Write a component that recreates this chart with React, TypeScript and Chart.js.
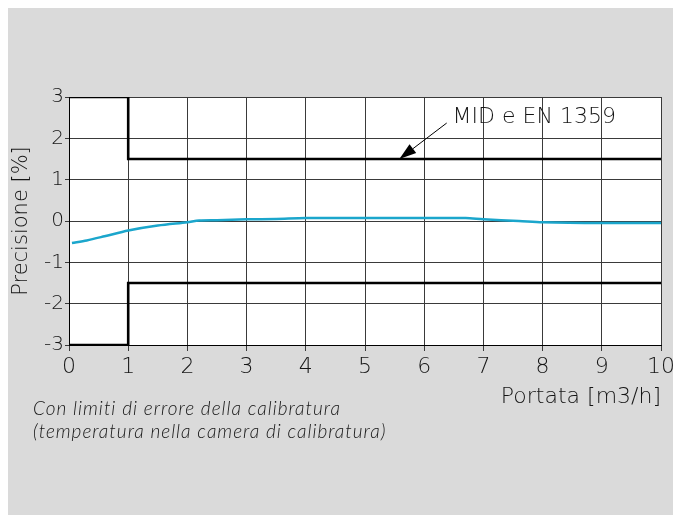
import React, { useEffect, useRef } from "react";
import { Chart, registerables } from "chart.js";

Chart.register(...registerables);

// ---- data ----
const flowX = [0.05, 0.3, 0.6, 1.0, 1.5, 2.0, 2.2, 2.5, 3.0, 3.5, 4.0, 5.0, 6.0, 6.7, 7.0, 7.6, 8.0, 9.0, 10.0];
const precisionY = [-0.53, -0.47, -0.37, -0.23, -0.11, -0.03, 0.01, 0.02, 0.04, 0.05, 0.07, 0.07, 0.07, 0.07, 0.04, 0.0, -0.03, -0.05, -0.05];

const upperLimitX = [0, 1, 1, 10];
const upperLimitY = [3, 3, 1.5, 1.5];
const lowerLimitX = [0, 1, 1, 10];
const lowerLimitY = [-3, -3, -1.5, -1.5];

const xTicks = [0, 1, 2, 3, 4, 5, 6, 7, 8, 9, 10];
const yTicks = [-3, -2, -1, 0, 1, 2, 3];

const annotationText = "MID e EN 1359";
const arrowTip = { x: 5.58, y: 1.5 };
const arrowTail = { x: 6.38, y: 2.37 };
const annotationPos = { x: 6.48, y: 2.52 };

const xTitle = "Portata [m3/h]";
const yTitle = "Precisione [%]";
const captionLines = [
  "Con limiti di errore della calibratura",
  "(temperatura nella camera di calibratura)",
];

const FONT = "'DejaVu Sans', sans-serif";
const W = "200";
const CAP_FONT = "Lato, 'DejaVu Sans', sans-serif";
const TEXT = "#151515";

const toPts = (xs: number[], ys: number[]) => xs.map((x, i) => ({ x, y: ys[i] }));

const textPlugin = {
  id: "textPlugin",
  afterDraw(chart: any) {
    const { ctx, scales, chartArea } = chart;
    const xs = scales.x;
    const ys = scales.y;
    ctx.save();
    // arrow
    const tx = xs.getPixelForValue(arrowTip.x);
    const ty = ys.getPixelForValue(arrowTip.y);
    const sx = xs.getPixelForValue(arrowTail.x);
    const sy = ys.getPixelForValue(arrowTail.y);
    const ang = Math.atan2(ty - sy, tx - sx);
    const headLen = 17;
    const headW = 5.5;
    const bx = tx - headLen * Math.cos(ang);
    const by = ty - headLen * Math.sin(ang);
    ctx.strokeStyle = "#000";
    ctx.lineWidth = 1;
    ctx.beginPath();
    ctx.moveTo(sx, sy);
    ctx.lineTo(bx, by);
    ctx.stroke();
    ctx.fillStyle = "#000";
    ctx.beginPath();
    ctx.moveTo(tx, ty);
    ctx.lineTo(bx + headW * Math.sin(ang), by - headW * Math.cos(ang));
    ctx.lineTo(bx - headW * Math.sin(ang), by + headW * Math.cos(ang));
    ctx.closePath();
    ctx.fill();

    // annotation text
    ctx.fillStyle = TEXT;
    ctx.font = `${W} 22px ${FONT}`;
    ctx.textAlign = "left";
    ctx.textBaseline = "middle";
    ctx.fillText(annotationText, xs.getPixelForValue(annotationPos.x), ys.getPixelForValue(annotationPos.y));

    // x title
    ctx.textAlign = "right";
    ctx.fillText(xTitle, chartArea.right, chartArea.bottom + 52);

    // caption
    ctx.font = `italic 300 19px ${CAP_FONT}`;
    (ctx as any).letterSpacing = "1px";
    ctx.textAlign = "left";
    captionLines.forEach((line, i) => {
      ctx.fillText(line, 25, chartArea.bottom + 64 + i * 23);
    });
    ctx.restore();
  },
};

export default function App() {
  const ref = useRef<HTMLCanvasElement | null>(null);
  useEffect(() => {
    if (!ref.current) return;
    const chart = new Chart(ref.current, {
      type: "scatter",
      data: {
        datasets: [
          {
            data: toPts(upperLimitX, upperLimitY),
            showLine: true,
            borderColor: "#000",
            borderWidth: 2.6,
            pointRadius: 0,
            tension: 0,
          },
          {
            data: toPts(lowerLimitX, lowerLimitY),
            showLine: true,
            borderColor: "#000",
            borderWidth: 2.6,
            pointRadius: 0,
            tension: 0,
          },
          {
            data: toPts(flowX, precisionY),
            showLine: true,
            borderColor: "#1ba6cc",
            borderWidth: 2.5,
            pointRadius: 0,
            tension: 0.3,
          },
        ],
      },
      options: {
        animation: false,
        responsive: false,
        maintainAspectRatio: false,
        devicePixelRatio: 1,
        layout: { padding: { top: 89, right: 12, bottom: 0, left: 0 } },
        plugins: {
          legend: { display: false },
          tooltip: { enabled: false },
        },
        scales: {
          x: {
            type: "linear",
            min: 0,
            max: 10,
            afterBuildTicks: (s: any) => {
              s.ticks = xTicks.map((v) => ({ value: v }));
            },
            afterFit: (s: any) => {
              s.height = 170;
            },
            grid: { color: "#3a3a3a", lineWidth: 1, tickLength: 6, drawTicks: true },
            border: { color: "#000", width: 1 },
            ticks: {
              color: TEXT,
              font: { family: FONT, size: 22, weight: W as any },
              padding: 3,
              maxRotation: 0,
            },
          },
          y: {
            type: "linear",
            min: -3,
            max: 3,
            afterBuildTicks: (s: any) => {
              s.ticks = yTicks.map((v) => ({ value: v }));
            },
            afterFit: (s: any) => {
              s.width = 61;
            },
            grid: { color: "#3a3a3a", lineWidth: 1, tickLength: 4 },
            border: { color: "#000", width: 1 },
            ticks: {
              color: TEXT,
              font: { family: FONT, size: 20, weight: W as any },
              padding: 1,
            },
            title: {
              display: true,
              text: yTitle,
              color: TEXT,
              font: { family: FONT, size: 21, weight: W as any },
              padding: { top: 1, bottom: 0 },
            },
          },
        },
      },
      plugins: [
        {
          id: "whiteArea",
          beforeDraw(c: any) {
            const { ctx, chartArea } = c;
            ctx.save();
            ctx.fillStyle = "#fff";
            ctx.fillRect(chartArea.left, chartArea.top, chartArea.right - chartArea.left, chartArea.bottom - chartArea.top);
            ctx.restore();
          },
        },
        textPlugin,
      ],
    });
    return () => chart.destroy();
  }, []);
  return (
    <div style={{ width: 670, height: 507, background: "#dadada" }}>
      <canvas ref={ref} width={670} height={507} style={{ display: "block" }} />
    </div>
  );
}
